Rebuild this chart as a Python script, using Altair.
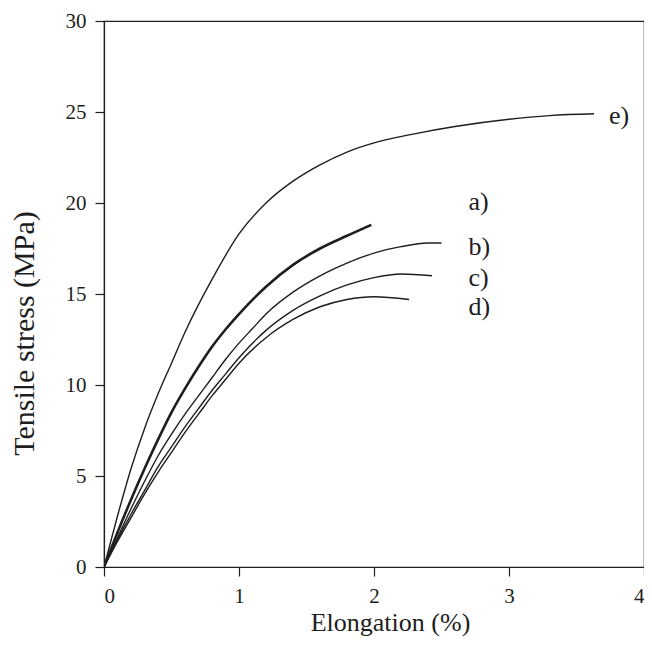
import altair as alt
import pandas as pd

# Curve data (Elongation %, Tensile stress MPa)
e_x = [0, 0.1, 0.2, 0.3, 0.4, 0.5, 0.6, 0.8, 1.0, 1.2, 1.4, 1.6, 1.8, 2.0, 2.3, 2.6, 3.0, 3.3, 3.63]
e_y = [0, 2.8, 5.4, 7.6, 9.5, 11.2, 12.9, 15.8, 18.3, 20.0, 21.2, 22.1, 22.8, 23.3, 23.8, 24.2, 24.6, 24.8, 24.9]

a_x = [0, 0.1, 0.2, 0.3, 0.4, 0.5, 0.6, 0.7, 0.8, 0.9, 1.0, 1.2, 1.4, 1.6, 1.8, 1.98]
a_y = [0, 1.9, 3.7, 5.4, 7.0, 8.5, 9.8, 11.0, 12.1, 13.05, 13.9, 15.4, 16.6, 17.5, 18.2, 18.8]

b_x = [0, 0.1, 0.2, 0.3, 0.4, 0.5, 0.6, 0.7, 0.8, 0.9, 1.0, 1.1, 1.2, 1.4, 1.6, 1.8, 2.0, 2.2, 2.4, 2.5]
b_y = [0, 1.6, 3.2, 4.7, 6.1, 7.3, 8.4, 9.4, 10.4, 11.4, 12.3, 13.1, 13.9, 15.1, 16.0, 16.7, 17.25, 17.6, 17.8, 17.8]

c_x = [0, 0.1, 0.2, 0.3, 0.4, 0.5, 0.6, 0.7, 0.8, 0.9, 1.0, 1.2, 1.4, 1.6, 1.8, 2.0, 2.2, 2.43]
c_y = [0, 1.5, 2.9, 4.2, 5.5, 6.6, 7.7, 8.7, 9.7, 10.6, 11.5, 13.0, 14.1, 14.9, 15.5, 15.9, 16.1, 16.0]

d_x = [0, 0.1, 0.2, 0.3, 0.4, 0.5, 0.6, 0.7, 0.8, 0.9, 1.0, 1.2, 1.4, 1.6, 1.8, 2.0, 2.26]
d_y = [0, 1.4, 2.7, 4.0, 5.2, 6.3, 7.4, 8.4, 9.4, 10.3, 11.2, 12.6, 13.6, 14.3, 14.7, 14.85, 14.7]

curve_names = ["a", "b", "c", "d", "e"]
curve_widths = [2.6, 1.4, 1.4, 1.4, 1.4]

label_text = ["a)", "b)", "c)", "d)", "e)"]
label_x = [2.70, 2.70, 2.70, 2.70, 3.74]
label_y = [20.05, 17.6, 15.9, 14.3, 24.8]

x_ticks = [0, 1, 2, 3, 4]
y_ticks = [0, 5, 10, 15, 20, 25, 30]

series = {"a": (a_x, a_y), "b": (b_x, b_y), "c": (c_x, c_y), "d": (d_x, d_y), "e": (e_x, e_y)}
rows = []
for name, w in zip(curve_names, curve_widths):
    xs, ys = series[name]
    for i, (xv, yv) in enumerate(zip(xs, ys)):
        rows.append({"curve": name, "x": xv, "y": yv, "w": w, "order": i})
df = pd.DataFrame(rows)

labels = pd.DataFrame({"text": label_text, "x": label_x, "y": label_y})

FONT = "Liberation Serif"
INK = "#1e1e1e"

xscale = alt.Scale(domain=[0, 4], nice=False, zero=False)
yscale = alt.Scale(domain=[0, 30], nice=False, zero=False)

lines = alt.Chart(df).mark_line(interpolate="monotone", color=INK, clip=True).encode(
    x=alt.X("x:Q", scale=xscale,
            axis=alt.Axis(title="Elongation (%)", values=x_ticks, format="d", grid=False,
                          tickSize=9, labelPadding=9, titleX=286, titleY=55,
                          titleFontSize=26,
                          titleBaseline="middle", titleAlign="center")),
    y=alt.Y("y:Q", scale=yscale,
            axis=alt.Axis(title="Tensile stress (MPa)", values=y_ticks, format="d", grid=False,
                          tickSize=9, labelPadding=9, titleX=-80, titleY=312,
                          titleFontSize=30,
                          titleBaseline="middle", titleAlign="center", titleAngle=270)),
    detail="curve:N",
    order="order:Q",
    strokeWidth=alt.StrokeWidth("w:Q", scale=None, legend=None),
)

texts = alt.Chart(labels).mark_text(align="left", baseline="middle", font=FONT,
                                    fontSize=26, color=INK).encode(
    x=alt.X("x:Q", scale=xscale),
    y=alt.Y("y:Q", scale=yscale),
    text="text:N",
)

chart = alt.layer(lines, texts).properties(
    width=540, height=546,
    autosize=alt.AutoSizeParams(type="none"),
    padding={"left": 96, "top": 13, "right": 0, "bottom": 73},
    background="white",
).configure_view(stroke=INK, strokeWidth=1.2).configure_axis(
    domainColor=INK, tickColor=INK, labelColor=INK, titleColor=INK,
    labelFont=FONT, titleFont=FONT, labelFontSize=21,
    titleFontWeight="normal", domainWidth=1.2, tickWidth=1.2,
)

chart.save("out.html", embed_options={"renderer": "svg", "actions": False})
